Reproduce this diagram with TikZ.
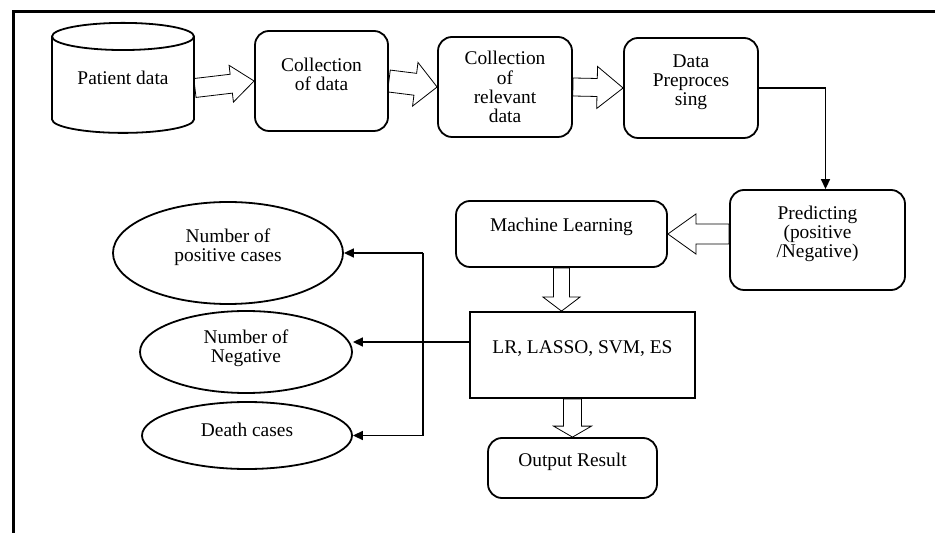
\documentclass[tikz,border=0pt]{standalone}
\usepackage{fontspec}
\setmainfont{Liberation Serif}
\usetikzlibrary{shapes.geometric,arrows.meta,calc}

\tikzset{
  box/.style={draw, line width=0.9pt, rounded corners=7pt},
  oval/.style={draw, line width=0.9pt, ellipse},
  lbl/.style={align=center, yshift=#1},
  lbl/.default=3pt,
  link/.style={line width=0.75pt, -{Triangle[length=5pt,width=4.5pt]}},
  fat/.style n args={3}{line width=0.9pt, to path={
    ($(\tikztostart)!#1!90:(\tikztotarget)$)
    -- ($($(\tikztotarget)!#3!(\tikztostart)$)!#1!90:(\tikztotarget)$)
    -- ($($(\tikztotarget)!#3!(\tikztostart)$)!#2!90:(\tikztotarget)$)
    -- (\tikztotarget)
    -- ($($(\tikztotarget)!#3!(\tikztostart)$)!#2!-90:(\tikztotarget)$)
    -- ($($(\tikztotarget)!#3!(\tikztostart)$)!#1!-90:(\tikztotarget)$)
    -- ($(\tikztostart)!#1!-90:(\tikztotarget)$) -- cycle}}
}

\begin{document}
\begin{tikzpicture}[x=0.5pt,y=-0.5pt,font=\fontsize{9.7pt}{9.6pt}\selectfont]
\useasboundingbox (0,0) rectangle (935,533);
\draw[line width=1.5pt] (13,533) -- (13,12) -- (935,12);

% top row
\node[cylinder, shape border rotate=90, aspect=0.26, draw, line width=0.9pt,
  minimum width=71pt, minimum height=55pt, text height=7pt, text depth=10pt]
  (pat) at (123,88) {Patient data};
\node[box, minimum width=66.5pt, minimum height=50pt,
  label={[lbl=3.5pt]center:Collection\\of data}] (col) at (321.5,81) {};
\node[box, minimum width=67pt, minimum height=50pt,
  label={[lbl=0pt]center:Collection\\of\\relevant\\data}] (rel) at (505,87) {};
\node[box, minimum width=67pt, minimum height=50pt,
  label={[lbl]center:Data\\Preproces\\sing}] (pre) at (691,88) {};

% middle
\node[box, minimum width=87.5pt, minimum height=50pt,
  label={[lbl]center:Predicting\\(positive\\/Negative)}] (pred) at (817.5,240) {};
\node[box, minimum width=105.5pt, minimum height=33pt,
  label={[lbl=3.5pt]center:Machine Learning}] (ml) at (561.5,234) {};
\node[draw, line width=0.9pt, minimum width=112.5pt, minimum height=43pt,
  label={[lbl]center:LR, LASSO, SVM, ES}] (lr) at (582.5,355) {};
\node[box, minimum width=84.5pt, minimum height=30pt,
  label={[lbl]center:Output Result}] (out) at (572.5,468) {};

% results
\node[oval, minimum width=115pt, minimum height=51pt,
  label={[lbl]center:Number of\\positive cases}] (e1) at (228,253) {};
\node[oval, minimum width=106pt, minimum height=41pt,
  label={[lbl=2pt]center:Number of\\Negative}] (e2) at (246,352) {};
\node[oval, minimum width=105pt, minimum height=33.5pt,
  label={[lbl]center:Death cases}] (e3) at (247,435.5) {};

% block arrows
\draw (pat.east) to[fat={4.75pt}{9.25pt}{11.5pt}] (col.west);
\draw (col.east) to[fat={5.5pt}{11pt}{11pt}] (rel.west);
\draw (rel.east) to[fat={4.5pt}{10.5pt}{13pt}] (pre.west);
\draw (pred.west |- ml.east) to[fat={5pt}{10pt}{14pt}] (ml.east);
\draw (ml.south) to[fat={4pt}{9.25pt}{7pt}] (ml.south |- lr.north);
\draw (out.north |- lr.south) to[fat={4.5pt}{9.5pt}{5.5pt}] (out.north);

% thin connectors
\draw[link] (pre.east) -| ([xshift=4pt]pred.north);
\coordinate (bus) at (423,342);
\draw[line width=0.75pt] (bus -| lr.west) -- (bus);
\draw[line width=0.75pt] (bus |- e1.east) -- (bus |- e3.east);
\draw[link] (bus |- e1.east) -- (e1.east);
\draw[link] (bus) -- (bus -| e2.east);
\draw[link] (bus |- e3.east) -- (e3.east);
\end{tikzpicture}
\end{document}
